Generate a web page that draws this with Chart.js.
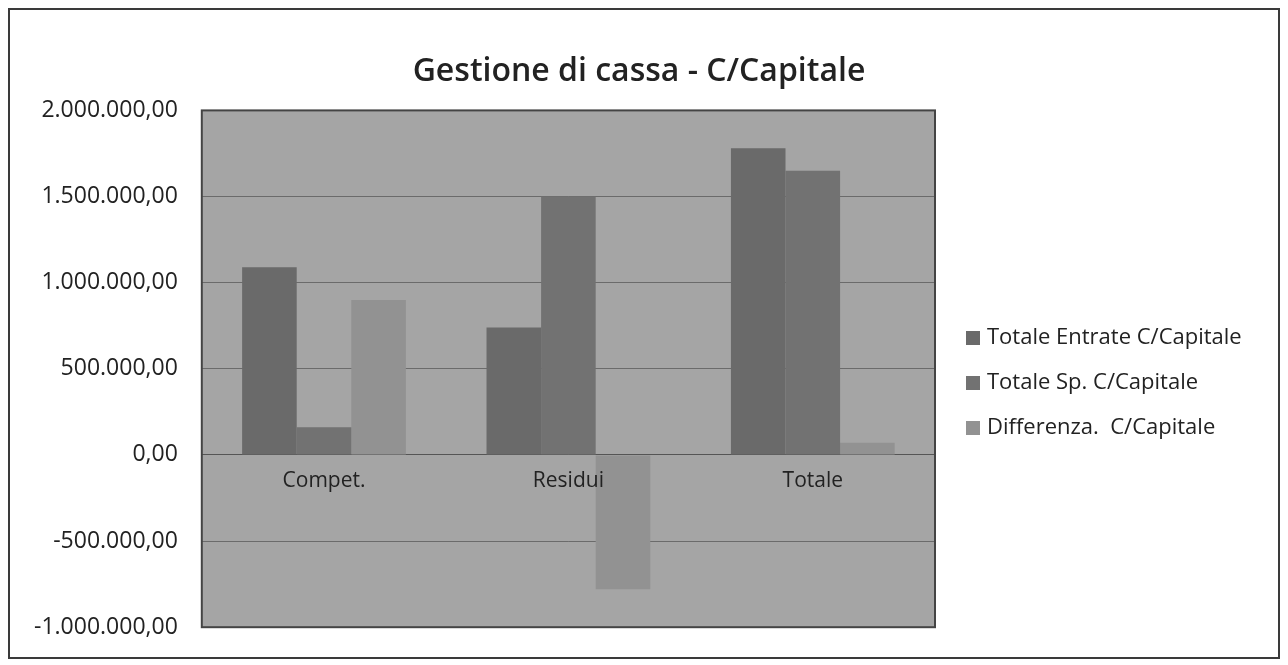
<!DOCTYPE html>
<html><head><meta charset="utf-8">
<script src="https://cdn.jsdelivr.net/npm/chart.js@4.4.1/dist/chart.umd.min.js"></script>
<style>html,body{margin:0;padding:0;background:#fff;overflow:hidden}
#wrap{position:absolute;left:0;top:0;width:1288px;height:665px}
</style></head><body>
<div id="wrap"><canvas id="c" width="1288" height="665"></canvas></div>
<script>
const categories = ['Compet.', 'Residui', 'Totale'];
const entrate = [1090000, 740000, 1780000];
const spese = [160000, 1500000, 1650000];
const differenza = [900000, -780000, 70000];
const seriesNames = ['Totale Entrate C/Capitale', 'Totale Sp. C/Capitale', 'Differenza.  C/Capitale'];
const yMin = -1000000, yMax = 2000000, yStep = 500000;

function fmt(v){
  const neg = v < 0;
  let s = Math.abs(Math.round(v)).toString().replace(/\B(?=(\d{3})+(?!\d))/g, '.');
  return (neg ? '-' : '') + s + ',00';
}

const font = 'Open Sans';

const frame = {
  id: 'frame',
  beforeDraw(chart){
    const {ctx, chartArea:a} = chart;
    ctx.save();
    ctx.fillStyle = '#a5a5a5';
    ctx.fillRect(a.left, a.top, a.right - a.left, a.bottom - a.top);
    ctx.strokeStyle = '#3a3a3a';
    ctx.lineWidth = 2;
    ctx.strokeRect(9, 9, chart.width - 18, chart.height - 16);
    ctx.restore();
  },
  afterDatasetsDraw(chart){
    const {ctx, chartArea:a} = chart;
    ctx.save();
    ctx.strokeStyle = '#444';
    ctx.lineWidth = 2;
    ctx.strokeRect(a.left, a.top, a.right - a.left, a.bottom - a.top);
    ctx.restore();
  },
  afterDraw(chart){
    // legend drawn from the dataset labels and colours
    const {ctx} = chart;
    ctx.save();
    ctx.font = '22px "' + font + '"';
    ctx.textBaseline = 'middle';
    ctx.textAlign = 'left';
    chart.data.datasets.forEach((ds, i) => {
      const y = 338 + i * 45;
      ctx.fillStyle = ds.backgroundColor;
      ctx.fillRect(966, y - 7, 14, 14);
      ctx.fillStyle = '#222';
      ctx.fillText(ds.label, 987, y);
    });
    ctx.restore();
  }
};

new Chart(document.getElementById('c'), {
  type: 'bar',
  data: {
    labels: categories,
    datasets: [
      {label: seriesNames[0], data: entrate, backgroundColor: '#6a6a6a'},
      {label: seriesNames[1], data: spese, backgroundColor: '#727272'},
      {label: seriesNames[2], data: differenza, backgroundColor: '#929292'}
    ]
  },
  options: {
    responsive: false,
    animation: false,
    datasets: {bar: {barPercentage: 1, categoryPercentage: 0.67, borderWidth: 0}},
    layout: {padding: {left: 10, right: 20, top: 0, bottom: 28}},
    plugins: {
      title: {display: true, text: 'Gestione di cassa - C/Capitale', color: '#222',
        font: {family: font, size: 32, weight: '600'}, padding: {top: 53, bottom: 19}},
      legend: {display: false},
      tooltip: {enabled: false}
    },
    scales: {
      x: {type: 'category', position: {y: 0},
        grid: {display: false},
        border: {display: true, color: '#555', width: 1},
        ticks: {z: 1, color: '#222', padding: 5, font: {family: font, size: 21}}},
      y: {min: yMin, max: yMax,
        grid: {color: 'rgba(60,60,60,0.55)', lineWidth: 1, drawTicks: false},
        border: {display: false},
        ticks: {stepSize: yStep, callback: v => fmt(v), color: '#222', padding: 24,
          font: {family: font, size: 23}}},
      legendSpace: {type: 'linear', position: 'right', display: true,
        grid: {display: false}, border: {display: false}, ticks: {display: false},
        afterFit(s){ s.width = 333; }}
    }
  },
  plugins: [frame]
});
</script>
</body></html>
